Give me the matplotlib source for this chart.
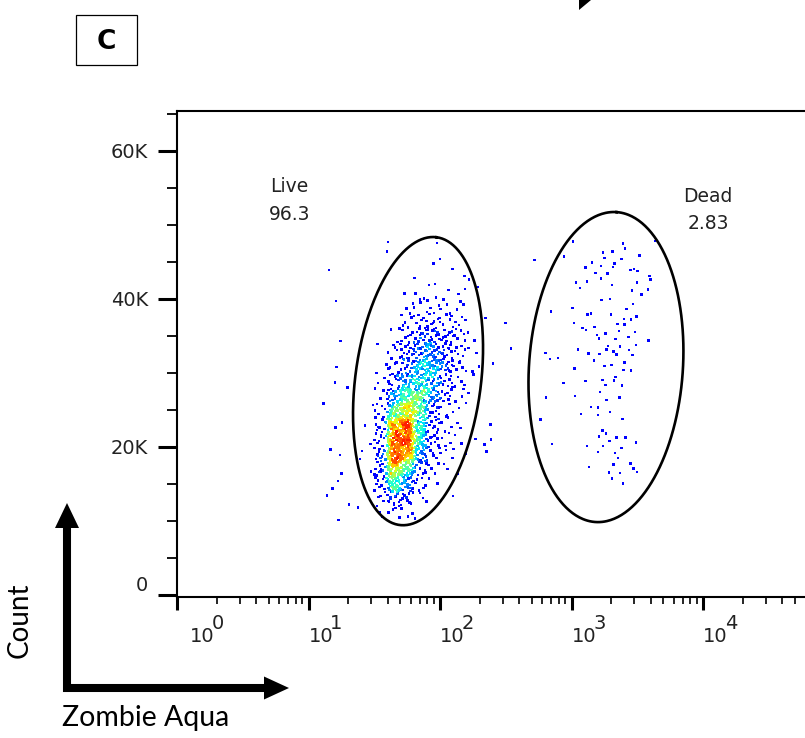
import numpy as np
import matplotlib

matplotlib.use("Agg")
import matplotlib.pyplot as plt
from matplotlib.patches import Polygon, Rectangle
from matplotlib.ticker import FixedLocator, LogLocator, NullFormatter

# ---- data ----------------------------------------------------------------
# live population: visible events per bin (0.1 decade x 2K counts)
LIVE_U = [1.1, 1.2, 1.3, 1.4, 1.5, 1.6, 1.7, 1.8, 1.9, 2.0, 2.1, 2.2, 2.3, 2.4, 2.5]
LIVE_Y = [10000, 12000, 14000, 16000, 18000, 20000, 22000, 24000, 26000, 28000,
          30000, 32000, 34000, 36000, 38000, 40000, 42000, 44000, 46000]
LIVE_COUNTS = [
    [0, 1, 1, 0, 2, 4, 3, 1, 0, 0, 0, 0, 0, 0, 0],
    [1, 0, 1, 0, 5, 15, 10, 3, 0, 1, 0, 0, 0, 0, 0],
    [1, 1, 0, 0, 10, 30, 20, 6, 2, 0, 0, 0, 0, 0, 0],
    [0, 1, 0, 1, 14, 40, 28, 10, 4, 2, 1, 0, 0, 0, 0],
    [1, 1, 1, 1, 14, 50, 45, 20, 6, 3, 2, 0, 1, 0, 0],
    [0, 0, 0, 1, 10, 50, 50, 26, 10, 4, 2, 1, 2, 0, 0],
    [0, 2, 0, 1, 10, 42, 50, 26, 10, 4, 2, 0, 1, 0, 0],
    [1, 0, 1, 1, 6, 30, 40, 30, 12, 5, 2, 0, 0, 0, 0],
    [0, 0, 0, 0, 4, 18, 30, 30, 20, 8, 3, 1, 0, 0, 0],
    [0, 2, 0, 0, 3, 10, 20, 25, 20, 10, 4, 1, 0, 0, 0],
    [0, 1, 0, 0, 1, 6, 16, 22, 22, 14, 6, 2, 0, 1, 0],
    [0, 0, 0, 0, 1, 5, 12, 18, 18, 12, 6, 2, 0, 0, 1],
    [0, 1, 0, 0, 0, 2, 7, 14, 14, 10, 6, 2, 0, 0, 0],
    [0, 0, 0, 0, 0, 1, 5, 8, 8, 6, 4, 0, 1, 1, 0],
    [0, 1, 0, 0, 0, 0, 3, 4, 4, 4, 3, 0, 0, 0, 0],
    [0, 0, 0, 0, 0, 0, 1, 2, 2, 1, 2, 1, 0, 0, 0],
    [1, 0, 0, 0, 0, 0, 0, 1, 1, 0, 1, 1, 0, 0, 0],
    [0, 0, 0, 0, 0, 0, 0, 0, 2, 1, 0, 0, 0, 0, 0],
    [0, 0, 0, 0, 1, 1, 0, 0, 1, 0, 0, 0, 0, 0, 0],
]

# dead population, same bin size
DEAD_U = [2.7, 2.8, 2.9, 3.0, 3.1, 3.2, 3.3, 3.4, 3.5, 3.6]
DEAD_Y = [14000, 16000, 18000, 20000, 22000, 24000, 26000, 28000, 30000,
          32000, 34000, 36000, 38000, 40000, 42000, 44000, 46000]
DEAD_COUNTS = [
    [0, 0, 0, 0, 0, 0, 2, 0, 0, 0],
    [0, 0, 0, 0, 1, 1, 2, 3, 0, 0],
    [0, 0, 0, 0, 0, 1, 3, 0, 0, 0],
    [0, 1, 0, 0, 1, 4, 1, 2, 0, 0],
    [1, 0, 0, 0, 0, 1, 1, 0, 0, 0],
    [0, 0, 0, 1, 2, 2, 0, 0, 0, 0],
    [0, 1, 0, 1, 0, 2, 1, 0, 0, 0],
    [0, 0, 1, 0, 1, 2, 3, 0, 0, 0],
    [0, 1, 0, 1, 1, 1, 2, 2, 0, 0],
    [0, 2, 0, 1, 1, 3, 3, 3, 0, 0],
    [0, 0, 0, 0, 2, 2, 2, 2, 1, 0],
    [0, 0, 0, 2, 2, 0, 3, 3, 0, 0],
    [0, 1, 0, 1, 1, 1, 0, 2, 0, 0],
    [0, 0, 0, 1, 0, 1, 1, 1, 2, 0],
    [0, 0, 0, 1, 2, 2, 0, 2, 2, 1],
    [1, 0, 1, 0, 2, 2, 3, 1, 1, 0],
    [0, 0, 0, 1, 0, 1, 2, 1, 0, 1],
]

# gates: centre (log10 x, count), semi-axes (decades), tilt (deg)
GATE_NAMES = ["Live", "Dead"]
GATE_PCT = ["96.3", "2.83"]
GATE_CU = [1.833, 3.262]
GATE_CY = [28900, 30800]
GATE_A = [1.103, 1.181]
GATE_B = [0.478, 0.585]
GATE_TILT = [7.3, 3.9]
LABEL_X = [7.2, 10960]
LABEL_Y = [53300, 52000]

Y_TICKS = [0, 20000, 40000, 60000]
Y_LABELS = ["0", "20K", "40K", "60K"]
X_DECADES = [0, 1, 2, 3, 4]

BIN_DU = 0.1
BIN_DY = 2000
PX_DEC = 131.5        # pixels per decade
CNT_PX = 135.14       # counts per pixel
CNT_DEC = PX_DEC * CNT_PX


def halton(i, b):
    f, r = 1.0, 0.0
    while i > 0:
        f /= b
        r += f * (i % b)
        i //= b
    return r


def events(us, ys, counts):
    xs, yv = [], []
    for r, y0 in enumerate(ys):
        for c, u0 in enumerate(us):
            off = r * 37 + c * 17
            for k in range(counts[r][c]):
                xs.append(10 ** (u0 + halton(off + k + 1, 2) * BIN_DU))
                yv.append(y0 + halton(off + k + 1, 3) * BIN_DY)
    return np.array(xs), np.array(yv)


lx, ly = events(LIVE_U, LIVE_Y, LIVE_COUNTS)
dx, dy = events(DEAD_U, DEAD_Y, DEAD_COUNTS)
xs = np.concatenate([lx, dx])
ys = np.concatenate([ly, dy])

# local density -> jet colour
px = np.log10(xs) * PX_DEC
py = ys / CNT_PX
d2 = (px[:, None] - px[None, :]) ** 2 + (py[:, None] - py[None, :]) ** 2
nb = (d2 < 5.0 ** 2).sum(axis=1) - 1
t = 0.125 + 0.75 * np.clip((nb - 4) / 17.0, 0, 1)
order = np.argsort(t)

fig = plt.figure(figsize=(8.05, 7.38), dpi=100)
fig.patch.set_facecolor("white")

# overlay in pixel coords for the figure furniture
ov = fig.add_axes([0, 0, 1, 1], zorder=0)
ov.set_xlim(0, 805)
ov.set_ylim(738, 0)
ov.axis("off")
ov.add_patch(Rectangle((76, 15), 61, 50, fill=False, lw=0.9, ec="black"))
ov.text(106.5, 42, "C", ha="center", va="center", fontsize=19,
        fontweight="bold", family="DejaVu Sans")
ov.add_patch(Polygon([(579, 0), (591, 0), (579, 10)], closed=True,
                     fc="black", ec="none"))
ov.plot([67, 67, 265], [527, 688, 688], color="black", lw=5.8,
        solid_joinstyle="miter", solid_capstyle="butt")
ov.add_patch(Polygon([(67, 503), (55, 528), (79, 528)], fc="black", ec="none"))
ov.add_patch(Polygon([(289, 688), (264, 676.5), (264, 699.5)], fc="black",
                     ec="none"))
ov.text(20, 620, "Count", rotation=90, ha="center", va="center",
        fontsize=20, family="Lato")
ov.text(62, 718, "Zombie Aqua", ha="left", va="center", fontsize=20.5,
        family="Lato")

# main dot plot
ax = fig.add_axes([177 / 805, 141 / 738, 628 / 805, 486 / 738], zorder=1)
ax.set_xscale("log")
ax.set_xlim(1, 10 ** (628 / PX_DEC))
ax.set_ylim(-270, 65400)
ax.spines["right"].set_visible(False)
for s in ("left", "bottom", "top"):
    ax.spines[s].set_linewidth(1.5)

ax.scatter(xs[order], ys[order], c=plt.cm.jet(t[order]), s=3.2, marker="s",
           linewidths=0, zorder=2)

for i in range(len(GATE_NAMES)):
    tt = np.linspace(0, 2 * np.pi, 400)
    ph = np.radians(GATE_TILT[i])
    a, b = GATE_A[i], GATE_B[i]
    eu = GATE_CU[i] + a * np.cos(tt) * np.sin(ph) + b * np.sin(tt) * np.cos(ph)
    ew = a * np.cos(tt) * np.cos(ph) - b * np.sin(tt) * np.sin(ph)
    ax.plot(10 ** eu, GATE_CY[i] + ew * CNT_DEC, color="black", lw=1.9,
            zorder=3)
    ax.text(LABEL_X[i], LABEL_Y[i], GATE_NAMES[i] + "\n" + GATE_PCT[i],
            ha="center", va="center", fontsize=13.5, color="#222",
            family="DejaVu Sans", linespacing=1.55)

ax.xaxis.set_major_locator(FixedLocator([10.0 ** d for d in X_DECADES]))
ax.xaxis.set_minor_locator(LogLocator(base=10, subs=range(2, 10), numticks=20))
ax.xaxis.set_major_formatter(NullFormatter())
ax.xaxis.set_minor_formatter(NullFormatter())
ax.tick_params(axis="x", which="major", direction="out", length=9, width=2.2)
ax.tick_params(axis="x", which="minor", direction="out", length=5, width=1.2)

ax.yaxis.set_major_locator(FixedLocator(Y_TICKS))
ax.yaxis.set_minor_locator(FixedLocator(
    [v for v in range(5000, 65001, 5000) if v not in Y_TICKS]))
ax.set_yticklabels(Y_LABELS, family="DejaVu Sans", fontsize=14, color="#222")
ax.tick_params(axis="y", which="major", direction="out", length=14, width=2.2,
               pad=7)
ax.tick_params(axis="y", which="minor", direction="out", length=7, width=1.3)
ax.get_yticklabels()[0].set_va("bottom")

for d in X_DECADES:
    off = 13 if d == 0 else 0
    base = ax.annotate("10", xy=(10.0 ** d, 0), xycoords=("data", "axes fraction"),
                       xytext=(off, -40), textcoords="offset pixels",
                       ha="left", va="center", fontsize=14, color="#222",
                       family="DejaVu Sans", annotation_clip=False)
    ax.annotate(str(d), xy=(1, 1.2), xycoords=base, xytext=(-3, 0),
                textcoords="offset pixels", ha="left", va="center",
                fontsize=14, color="#222", family="DejaVu Sans",
                annotation_clip=False)

fig.savefig("out.png", dpi=100, facecolor="white")
